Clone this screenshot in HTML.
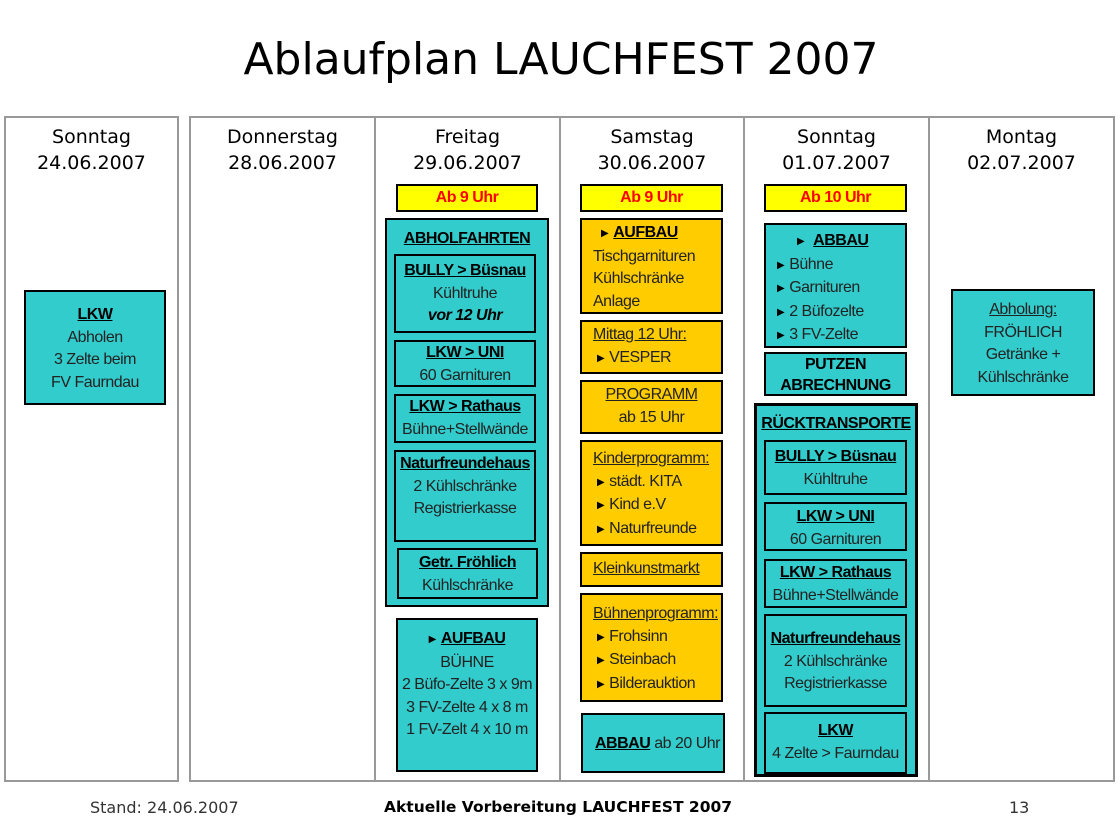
<!DOCTYPE html>
<html><head><meta charset="utf-8"><style>
body{margin:0;width:1120px;height:834px;background:#fff;position:relative;overflow:hidden;font-family:"Liberation Sans",Arial,sans-serif;}
.a{position:absolute;box-sizing:border-box}
.t{font-family:"DejaVu Sans",sans-serif;}
.b{position:absolute;box-sizing:border-box;border:2px solid #000;text-align:center;font-family:"Liberation Sans",Arial,sans-serif;font-size:16px;letter-spacing:-0.5px;line-height:22.5px;color:#222;white-space:nowrap}
.c{background:#33CCCC}.o{background:#FFCC00}.y{background:#FFFF00;color:#f00;font-weight:bold;line-height:23px}
u{text-decoration:underline}
.h{font-weight:bold;color:#000;text-decoration:underline}
.l{text-align:left;padding-left:11px}
.tri{font-size:10px;vertical-align:1px;margin-right:5px;color:#000}
.frame{position:absolute;box-sizing:border-box;border:2px solid #999}
.vl{position:absolute;top:117px;width:2px;height:664px;background:#999}
.hd{position:absolute;top:124px;text-align:center;font-family:"DejaVu Sans",sans-serif;font-size:19px;line-height:26px;color:#000}
</style></head><body>
<div class="a t" style="left:0;top:34px;width:1120px;text-align:center;font-size:44px;color:#000;padding-left:2px">Ablaufplan LAUCHFEST 2007</div>
<div class="frame" style="left:4px;top:116px;width:175px;height:666px"></div>
<div class="frame" style="left:189px;top:116px;width:926px;height:666px"></div>
<div class="vl" style="left:374px"></div><div class="vl" style="left:559px"></div><div class="vl" style="left:743px"></div><div class="vl" style="left:928px"></div>
<div class="hd" style="left:5px;width:173px">Sonntag<br>24.06.2007</div>
<div class="hd" style="left:190px;width:185px">Donnerstag<br>28.06.2007</div>
<div class="hd" style="left:375px;width:185px">Freitag<br>29.06.2007</div>
<div class="hd" style="left:560px;width:184px">Samstag<br>30.06.2007</div>
<div class="hd" style="left:744px;width:185px">Sonntag<br>01.07.2007</div>
<div class="hd" style="left:929px;width:185px">Montag<br>02.07.2007</div>

<div class="b c" style="left:24px;top:290px;width:142px;height:115px;padding-top:12px"><span class="h">LKW</span><br>Abholen<br>3 Zelte beim<br>FV Faurndau</div>

<div class="b y" style="left:396px;top:184px;width:142px;height:28px">Ab 9 Uhr</div>
<div class="b c" style="left:385px;top:218px;width:164px;height:389px;padding-top:8px"><span class="h">ABHOLFAHRTEN</span></div>
<div class="b c" style="left:394px;top:254px;width:142px;height:79px;padding-top:4px"><span class="h">BULLY &gt; Büsnau</span><br>Kühltruhe<br><b><i style="color:#000">vor 12 Uhr</i></b></div>
<div class="b c" style="left:394px;top:340px;width:142px;height:47px"><span class="h">LKW &gt; UNI</span><br>60 Garnituren</div>
<div class="b c" style="left:394px;top:394px;width:142px;height:49px"><span class="h">LKW &gt; Rathaus</span><br>Bühne+Stellwände</div>
<div class="b c" style="left:394px;top:450px;width:142px;height:92px;padding-top:1px"><span class="h">Naturfreundehaus</span><br>2 Kühlschränke<br>Registrierkasse</div>
<div class="b c" style="left:397px;top:548px;width:141px;height:51px;padding-top:2px"><span class="h">Getr. Fröhlich</span><br>Kühlschränke</div>
<div class="b c" style="left:396px;top:618px;width:142px;height:154px;padding-top:8px"><span class="tri">▶</span><span class="h">AUFBAU</span><br>BÜHNE<br>2 Büfo-Zelte 3 x 9m<br>3 FV-Zelte 4 x 8 m<br>1 FV-Zelt 4 x 10 m</div>

<div class="b y" style="left:580px;top:184px;width:143px;height:28px">Ab 9 Uhr</div>
<div class="b o l" style="left:580px;top:218px;width:143px;height:96px;padding-top:2px"><span style="padding-left:8px"><span class="tri">▶</span><span class="h">AUFBAU</span></span><br>Tischgarnituren<br>Kühlschränke<br>Anlage</div>
<div class="b o l" style="left:580px;top:320px;width:143px;height:54px;padding-top:2px"><u>Mittag 12 Uhr:</u><br>&nbsp;<span class="tri">▶</span>VESPER</div>
<div class="b o" style="left:580px;top:380px;width:143px;height:54px;padding-top:2px"><u>PROGRAMM</u><br>ab 15 Uhr</div>
<div class="b o l" style="left:580px;top:440px;width:143px;height:106px;padding-top:6px"><u>Kinderprogramm:</u><br>&nbsp;<span class="tri">▶</span>städt. KITA<br>&nbsp;<span class="tri">▶</span>Kind e.V<br>&nbsp;<span class="tri">▶</span>Naturfreunde</div>
<div class="b o l" style="left:580px;top:552px;width:143px;height:35px;padding-top:4px"><u>Kleinkunstmarkt</u></div>
<div class="b o l" style="left:580px;top:593px;width:143px;height:109px;padding-top:8px"><u>Bühnenprogramm:</u><br>&nbsp;<span class="tri">▶</span>Frohsinn<br>&nbsp;<span class="tri">▶</span>Steinbach<br>&nbsp;<span class="tri">▶</span>Bilderauktion</div>
<div class="b c l" style="left:581px;top:713px;width:144px;height:60px;padding-top:18px;padding-left:12px;overflow:hidden"><span class="h">ABBAU</span> ab 20 Uhr</div>

<div class="b y" style="left:764px;top:184px;width:143px;height:28px">Ab 10 Uhr</div>
<div class="b c l" style="left:764px;top:223px;width:143px;height:125px;padding-top:5px"><span style="padding-left:20px"><span class="tri">▶</span> <span class="h">ABBAU</span></span><br><span class="tri">▶</span>Bühne<br><span class="tri">▶</span>Garnituren<br><span class="tri">▶</span>2 Büfozelte<br><span class="tri">▶</span>3 FV-Zelte</div>
<div class="b c" style="left:764px;top:352px;width:143px;height:44px;font-weight:bold;color:#000;line-height:21px">PUTZEN<br>ABRECHNUNG</div>
<div class="b c" style="left:754px;top:403px;width:164px;height:374px;padding-top:7px;border-width:3px"><span class="h">RÜCKTRANSPORTE</span></div>
<div class="b c" style="left:764px;top:440px;width:143px;height:55px;padding-top:4px"><span class="h">BULLY &gt; Büsnau</span><br>Kühltruhe</div>
<div class="b c" style="left:764px;top:502px;width:143px;height:49px;padding-top:2px"><span class="h">LKW &gt; UNI</span><br>60 Garnituren</div>
<div class="b c" style="left:764px;top:559px;width:143px;height:49px;padding-top:1px"><span class="h">LKW &gt; Rathaus</span><br>Bühne+Stellwände</div>
<div class="b c" style="left:764px;top:614px;width:143px;height:93px;padding-top:12px"><span class="h">Naturfreundehaus</span><br>2 Kühlschränke<br>Registrierkasse</div>
<div class="b c" style="left:764px;top:712px;width:143px;height:62px;padding-top:6px"><span class="h">LKW</span><br>4 Zelte &gt; Faurndau</div>

<div class="b c" style="left:951px;top:289px;width:144px;height:107px;padding-top:8px"><u>Abholung:</u><br>FRÖHLICH<br>Getränke +<br>Kühlschränke</div>

<div class="a t" style="left:90px;top:798px;font-size:16px;color:#333">Stand: 24.06.2007</div>
<div class="a t" style="left:384px;top:798px;font-size:15.5px;font-weight:bold;color:#000">Aktuelle Vorbereitung LAUCHFEST 2007</div>
<div class="a t" style="left:1009px;top:798px;font-size:16px;color:#333">13</div>
</body></html>
